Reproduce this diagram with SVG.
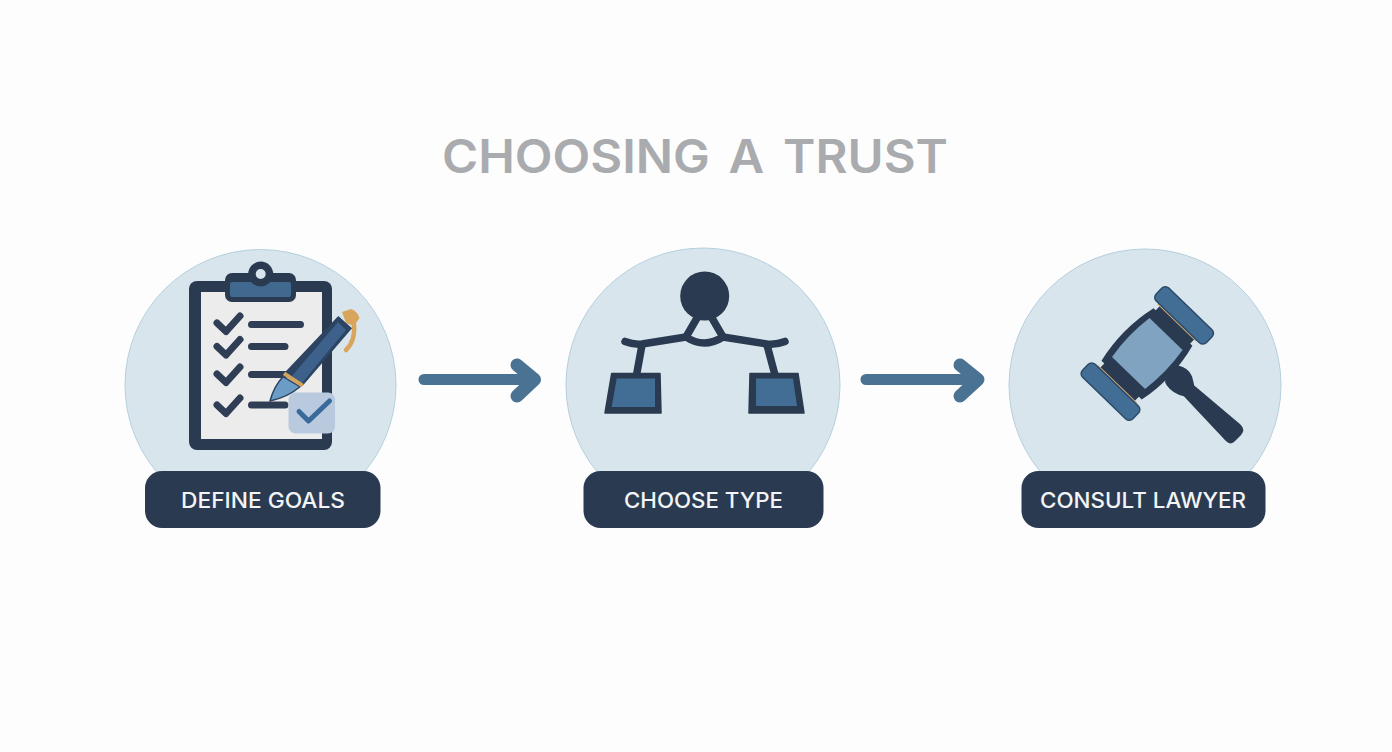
<svg xmlns="http://www.w3.org/2000/svg" width="1392" height="752" viewBox="0 0 1392 752">
<style>
.bg{fill:#d9e5ec;stroke:#b4d0de;stroke-width:1}
.pill{fill:#2a3b51}
.lbl{font-family:Inter,"Liberation Sans",sans-serif;font-size:21px;font-weight:500;fill:#f2f4f6}
.title{font-family:Inter,"Liberation Sans",sans-serif;font-size:46px;font-weight:600;fill:#a9abae;word-spacing:6px}
.d{fill:#2a3b51}
.chk{fill:none;stroke:#2f3e55;stroke-width:7;stroke-linecap:round;stroke-linejoin:round}
.ln{fill:none;stroke:#2f3e55;stroke-width:7;stroke-linecap:round}
.net{fill:none;stroke:#2a3b51;stroke-width:7.500;stroke-linecap:round;stroke-linejoin:round}
.arrow{fill:none;stroke:#4a7293;stroke-linecap:round;stroke-linejoin:round}
.blue{fill:#426d94}
.cap{fill:#426d94;stroke:#2a4a6a;stroke-width:1.500}
</style>
<rect width="1392" height="752" fill="#fdfdfd"/>
<text class="title" x="442" y="173" textLength="506" lengthAdjust="spacingAndGlyphs">CHOOSING A TRUST</text>
<g id="connectors">
<g class="arrow"><path d="M424 379.500H534" stroke-width="11"/><path d="M517 365L534.500 379.500L517 396" stroke-width="13"/></g>
<g class="arrow"><path d="M866 379.500H977" stroke-width="11"/><path d="M960 365L978 379.500L960 396" stroke-width="13"/></g>
</g>
<g id="node-define-goals">
<circle class="bg" cx="260.500" cy="385" r="135.500"/>
<rect class="d" x="189" y="281" width="143" height="169" rx="8"/>
<rect x="201" y="292" width="121" height="147" fill="#ececec"/>
<rect x="225" y="273" width="71" height="29" rx="7" class="d"/>
<rect x="230" y="282" width="61" height="15" rx="2" fill="#41698f"/>
<circle class="d" cx="260.700" cy="274" r="12.500"/>
<circle cx="260.700" cy="274" r="5" fill="#d9e5ec"/>
<path class="chk" d="M217 323L226 331.500L240 316"/>
<path class="chk" d="M217 346.500L226 355L240 339.500"/>
<path class="chk" d="M217 374L226 382.500L240 367"/>
<path class="chk" d="M217 405L226 413.500L240 398"/>
<path class="ln" d="M251.500 324.500H300.500M251.500 346.500H285M251.500 374.500H285M251.500 405H285"/>
<path d="M342 312L351 309Q357 311 359.500 318L354 326L346 323Z" fill="#d9a55c"/>
<path d="M354 324Q355.500 341 346 350" fill="none" stroke="#d9a55c" stroke-width="4.500" stroke-linecap="round"/>
<path d="M284 373.300L302.700 385.700L352 328.300L338.300 316Z" fill="#2c4462"/>
<path d="M292 376L302 383L346 330L338 322Z" fill="#3d618a"/>
<path d="M270 401Q274 386 283 376.700L300 386.700Q288 397 270 401Z" fill="#6a9cc6" stroke="#2c4462" stroke-width="1.500" stroke-linejoin="round"/>
<path d="M284 373.300L302.700 385.700" stroke="#d3a25c" stroke-width="4" fill="none"/>
<rect x="288.500" y="392.500" width="46.500" height="41" rx="7" fill="#b9cadf"/>
<path d="M299 411.500L308.500 421L329.500 401" fill="none" stroke="#396a9c" stroke-width="5" stroke-linecap="round" stroke-linejoin="round"/>
<rect class="pill" x="145" y="471" width="235.500" height="57" rx="17"/>
<text class="lbl" x="181" y="508" textLength="164" lengthAdjust="spacingAndGlyphs">DEFINE GOALS</text>
</g>
<g id="node-choose-type">
<circle class="bg" cx="703" cy="385" r="137"/>
<circle class="d" cx="704.700" cy="296" r="24.500"/>
<path class="net" d="M697 318L686 337Q704 349 723 337L712 318"/>
<path class="net" d="M625 341.500Q634 345 642 344L686 337M785 341.500Q776 345 767 344L723 337"/>
<path class="net" d="M642 345L636.500 375M767 345L775 375"/>
<path d="M611.700 373.500H660L661 413H605Z" class="d" stroke="#2a3b51" stroke-width="1.500" stroke-linejoin="round"/>
<path d="M616.700 378.500H655V407H611.700Z" class="blue"/>
<path d="M750 373.500H798L804 413H749Z" class="d" stroke="#2a3b51" stroke-width="1.500" stroke-linejoin="round"/>
<path d="M756 378.500H793L797 406H756Z" class="blue"/>
<rect class="pill" x="583.500" y="471" width="240" height="57" rx="17"/>
<text class="lbl" x="624" y="508" textLength="159" lengthAdjust="spacingAndGlyphs">CHOOSE TYPE</text>
</g>
<g id="node-consult-lawyer">
<circle class="bg" cx="1145" cy="385" r="136"/>
<g transform="translate(1147.300 353.500) rotate(44)">
<path class="d" d="M30 -12.600Q40 -18.600 48 -14.600Q53 -11.600 56 -9.600L116 -13.600Q124 -13.600 124 -6.600L124 2.400Q124 8.400 117 8.400L56 5.400Q46 11.400 36 9.400Q30 8.400 30 2.400Z"/>
<rect class="d" x="-24" y="-44" width="48" height="88"/>
<path class="d" d="M-27 -37L27 -37Q36 0 28 37L-28 37Q-36 0 -27 -37Z"/>
<path d="M-23 -27L23 -27Q27 0 23 27L-23 27Q-27 0 -23 -27Z" fill="#7fa3c1"/>
<path d="M-27 -43H27M-27 43H27" stroke="#d8ad75" stroke-width="1.500" fill="none"/>
<rect class="cap" x="-35" y="-62" width="70" height="18" rx="5"/>
<rect class="cap" x="-35" y="44" width="70" height="18" rx="5"/>
</g>
<rect class="pill" x="1021.500" y="471" width="244" height="57" rx="17"/>
<text class="lbl" x="1040" y="508" textLength="206" lengthAdjust="spacingAndGlyphs">CONSULT LAWYER</text>
</g>
</svg>
